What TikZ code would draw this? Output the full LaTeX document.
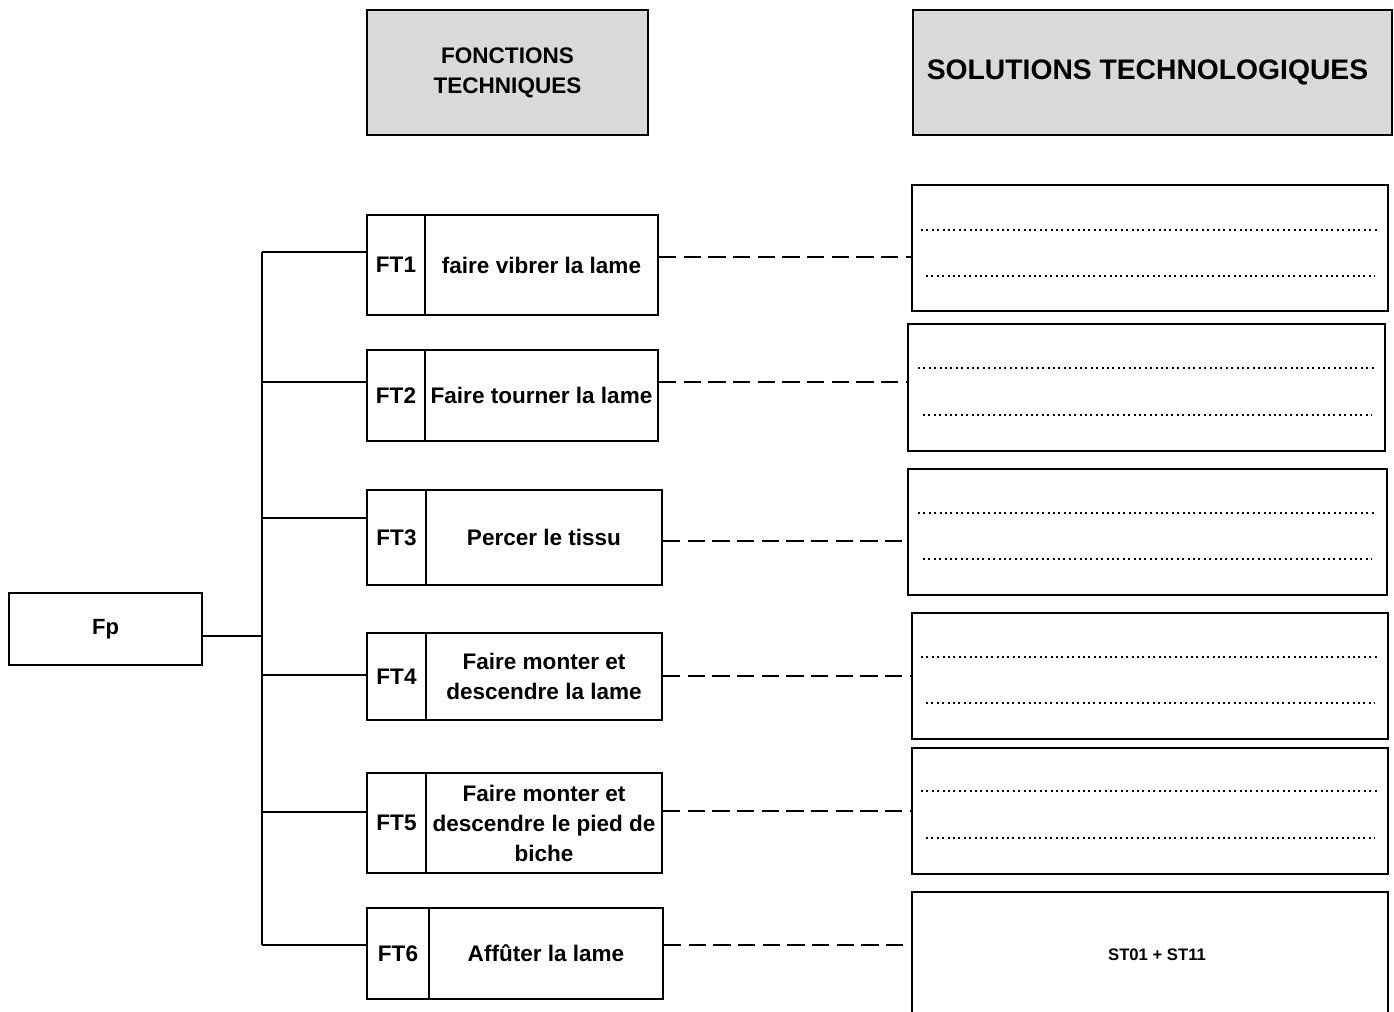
\documentclass[tikz,border=0pt]{standalone}
\usepackage{fontspec}
\setmainfont{Liberation Sans}
\definecolor{hdrgray}{RGB}{217,217,217}
\begin{document}
\begin{tikzpicture}[x=0.75pt,y=-0.75pt,
  bx/.style 2 args={draw, line width=1.5pt, inner sep=0pt, minimum width=#1*0.75pt, minimum height=#2*0.75pt},
  hdr/.style={fill=hdrgray, align=center},
  ftfont/.style={font=\bfseries\fontsize{16.9}{22.5}\selectfont, align=center},
  sttitle/.style={font=\bfseries\fontsize{21.2}{26}\selectfont, inner sep=0pt},
  dotln/.style={line width=1.5pt, dash pattern=on 1.5pt off 2.55pt},
  conn/.style={line width=1.5pt},
  dashln/.style={line width=1.5pt, dash pattern=on 13pt off 5.5pt}]
\clip (0,0) rectangle (1394,1012);
\fill[white] (0,0) rectangle (1394,1012);

% headers
\node[bx={281}{125}, hdr, ftfont] (hft) at (507.5,72.5) {FONCTIONS\\TECHNIQUES};
\node[bx={479}{125}, hdr] (hst) at (1152.5,72.5) {};
\node[sttitle] (hstt) at (1147.5,72.5) {SOLUTIONS TECHNOLOGIQUES};

% Fp
\node[bx={193}{72}, font=\bfseries\fontsize{16.5}{18}\selectfont] (fp) at (105.5,629) {Fp};

% FT boxes
\node[bx={58}{100}, ftfont] (ft1l) at (396,265) {FT1};
\node[bx={233}{100}, ftfont] (ft1) at (541.5,265) {faire vibrer la lame};
\node[bx={58}{91}, ftfont] (ft2l) at (396,395.5) {FT2};
\node[bx={233}{91}, ftfont] (ft2) at (541.5,395.5) {Faire tourner la lame};
\node[bx={59}{95}, ftfont] (ft3l) at (396.5,537.5) {FT3};
\node[bx={236}{95}, ftfont] (ft3) at (544,537.5) {Percer le tissu};
\node[bx={59}{87}, ftfont] (ft4l) at (396.5,676.5) {FT4};
\node[bx={236}{87}, ftfont] (ft4) at (544,676.5) {Faire monter et\\descendre la lame};
\node[bx={59}{100}, ftfont] (ft5l) at (396.5,823) {FT5};
\node[bx={236}{100}, ftfont] (ft5) at (544,823) {Faire monter et\\descendre le pied de\\biche};
\node[bx={62}{91}, ftfont] (ft6l) at (398,953.5) {FT6};
\node[bx={234}{91}, ftfont] (ft6) at (546,953.5) {Aff\^uter la lame};

% ST boxes
\node[bx={476}{126}] (st1) at (1150,248) {};
\node[bx={477}{127}] (st2) at (1146.5,387.5) {};
\node[bx={479}{126}] (st3) at (1147.5,532) {};
\node[bx={476}{126}] (st4) at (1150,676) {};
\node[bx={476}{126}] (st5) at (1150,811) {};
\node[bx={476}{150}] (st6) at (1150,967) {};
\node[font=\bfseries\fontsize{12.5}{15}\selectfont, inner sep=0pt] (st6t) at (1157,955) {ST01 + ST11};

% dotted fill-in rows
\draw[dotln] (921,230) -- (1377,230);
\draw[dotln] (926,276) -- (1375,276);
\draw[dotln] (918,368) -- (1374,368);
\draw[dotln] (923,415) -- (1372,415);
\draw[dotln] (918,513) -- (1374,513);
\draw[dotln] (923,559) -- (1372,559);
\draw[dotln] (921,657) -- (1377,657);
\draw[dotln] (926,703) -- (1375,703);
\draw[dotln] (921,791) -- (1377,791);
\draw[dotln] (926,838) -- (1375,838);

% bus coordinates
\coordinate (b0) at (262,636);
\coordinate (b1) at (262,252);
\coordinate (b2) at (262,382);
\coordinate (b3) at (262,518);
\coordinate (b4) at (262,675);
\coordinate (b5) at (262,812);
\coordinate (b6) at (262,945);

\draw[conn] (fp.east |- b0) -- (b0);
\draw[conn] (b1) -- (b6);
\draw[conn] (b1) -- (ft1l.west |- b1);
\draw[conn] (b2) -- (ft2l.west |- b2);
\draw[conn] (b3) -- (ft3l.west |- b3);
\draw[conn] (b4) -- (ft4l.west |- b4);
\draw[conn] (b5) -- (ft5l.west |- b5);
\draw[conn] (b6) -- (ft6l.west |- b6);

% dashed links
\coordinate (d1) at (0,257);
\coordinate (d2) at (0,382);
\coordinate (d3) at (0,541);
\coordinate (d4) at (0,676);
\coordinate (d5) at (0,811);
\coordinate (d6) at (0,945);
\draw[dashln] (ft1.east |- d1) -- (st1.west |- d1);
\draw[dashln] (ft2.east |- d2) -- (st2.west |- d2);
\draw[dashln] (ft3.east |- d3) -- (st3.west |- d3);
\draw[dashln] (ft4.east |- d4) -- (st4.west |- d4);
\draw[dashln] (ft5.east |- d5) -- (st5.west |- d5);
\draw[dashln] (ft6.east |- d6) -- (st6.west |- d6);
\end{tikzpicture}
\end{document}
